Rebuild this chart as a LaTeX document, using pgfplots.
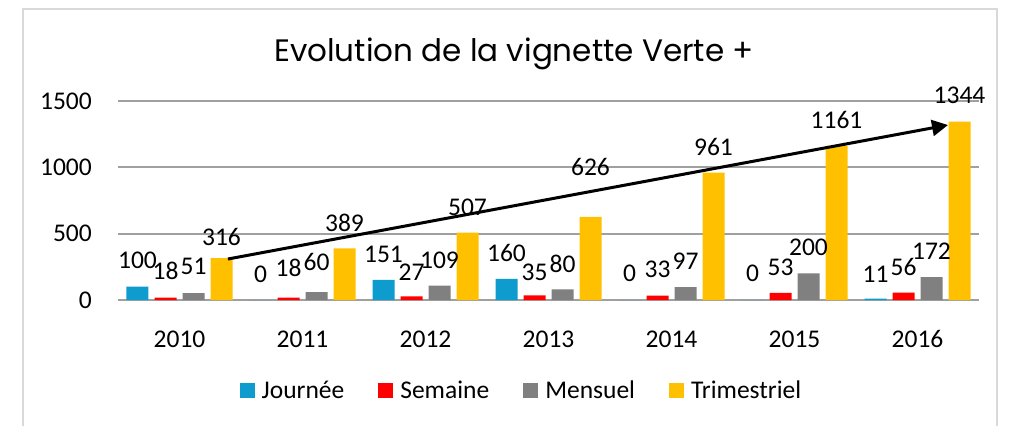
\documentclass[border=0pt]{standalone}
\usepackage{fontspec}
\setmainfont{Carlito}
\newfontfamily\titlefont{Poppins}
\usepackage{pgfplots}
\usepackage{pgfplotstable}
\pgfplotsset{compat=1.18}
\usetikzlibrary{arrows.meta}

\definecolor{cJour}{HTML}{0E9BCD}
\definecolor{cSem}{HTML}{FF0000}
\definecolor{cMens}{HTML}{808080}
\definecolor{cTrim}{HTML}{FFC000}
\definecolor{gridgray}{HTML}{A0A0A0}
\definecolor{framegray}{HTML}{D9D9D9}

\newcommand\fs{\fontsize{25.5bp}{30bp}\selectfont}

% x = year index (2010 = 0), y = value, dy = label offset above bar top (bp)
\pgfplotstableread{
x y dy
0 100 26.7
1 0 26
2 151 26
3 160 25.5
4 0 26.7
5 0 26.7
6 11 24.5
}\journee
\pgfplotstableread{
x y dy
0 18 26.6
1 18 29.6
2 27 24.4
3 35 23
4 33 26.6
5 53 25.7
6 56 25.3
}\semaine
\pgfplotstableread{
x y dy
0 51 27.2
1 60 30
2 109 25.5
3 80 26
4 97 26.4
5 200 26.2
6 172 25.5
}\mensuel
\pgfplotstableread{
x y dy
0 316 21
1 389 25.4
2 507 25.4
3 626 49.7
4 961 25.8
5 1161 26
6 1344 26.7
}\trimestriel

\pgfplotsset{legsq/.style={legend image code/.code={\path[##1,draw=none] (0bp,-7.5bp) rectangle (15bp,7.5bp);}}}

\begin{document}
\begin{tikzpicture}
\path[use as bounding box] (0,0) rectangle (1011bp,426bp);
\draw[framegray, line width=1.5bp] (23bp,-5bp) |- (997bp,417bp) -- (997bp,-5bp);
\node[font=\titlefont\fontsize{31bp}{37bp}\selectfont, anchor=base] at (514bp,364bp) {Evolution de la vignette Verte +};

\begin{axis}[
    at={(118bp,126bp)}, anchor=south west,
    scale only axis, width=861bp, height=199bp,
    xmin=-0.5, xmax=6.5, ymin=0, ymax=1500,
    ybar=6bp, bar width=22bp,
    xtick={0,...,6},
    xticklabels={2010,2011,2012,2013,2014,2015,2016},
    ytick={0,500,1000,1500},
    axis line style={draw=none},
    major tick style={draw=none},
    ymajorgrids, grid style={draw=gridgray, line width=2bp},
    clip=false,
    /pgf/number format/assume math mode=true,
    /pgf/number format/1000 sep={},
    tick label style={font=\fs},
    xticklabel style={anchor=base, inner sep=0pt, yshift=-43bp},
    yticklabel style={anchor=east, inner sep=0pt, xshift=-26bp},
    nodes near coords,
    nodes near coords align={center},
    visualization depends on={\thisrow{dy} \as \dy},
    every node near coord/.append style={font=\fs, inner sep=0pt, yshift=\dy bp, text=black},
    legend columns=-1,
    legend style={at={(0.468,-0.455)}, anchor=center, draw=none, fill=none, font=\fs,
        nodes={inner sep=1bp},
        /tikz/every odd column/.append style={column sep=6bp},
        /tikz/every even column/.append style={column sep=33bp}},
]
\addplot[fill=cJour, draw=none, legsq] table[x=x, y=y] {\journee};
\addlegendentry{Journée}
\addplot[fill=cSem, draw=none, legsq] table[x=x, y=y] {\semaine};
\addlegendentry{Semaine}
\addplot[fill=cMens, draw=none, legsq] table[x=x, y=y] {\mensuel};
\addlegendentry{Mensuel}
\addplot[fill=cTrim, draw=none, legsq] table[x=x, y=y] {\trimestriel};
\addlegendentry{Trimestriel}

\draw[black, line width=3bp, -{Triangle[length=16bp,width=16bp]}]
    (axis cs:0.394,309) -- (axis cs:6.248,1319);
\end{axis}
\end{tikzpicture}
\end{document}
